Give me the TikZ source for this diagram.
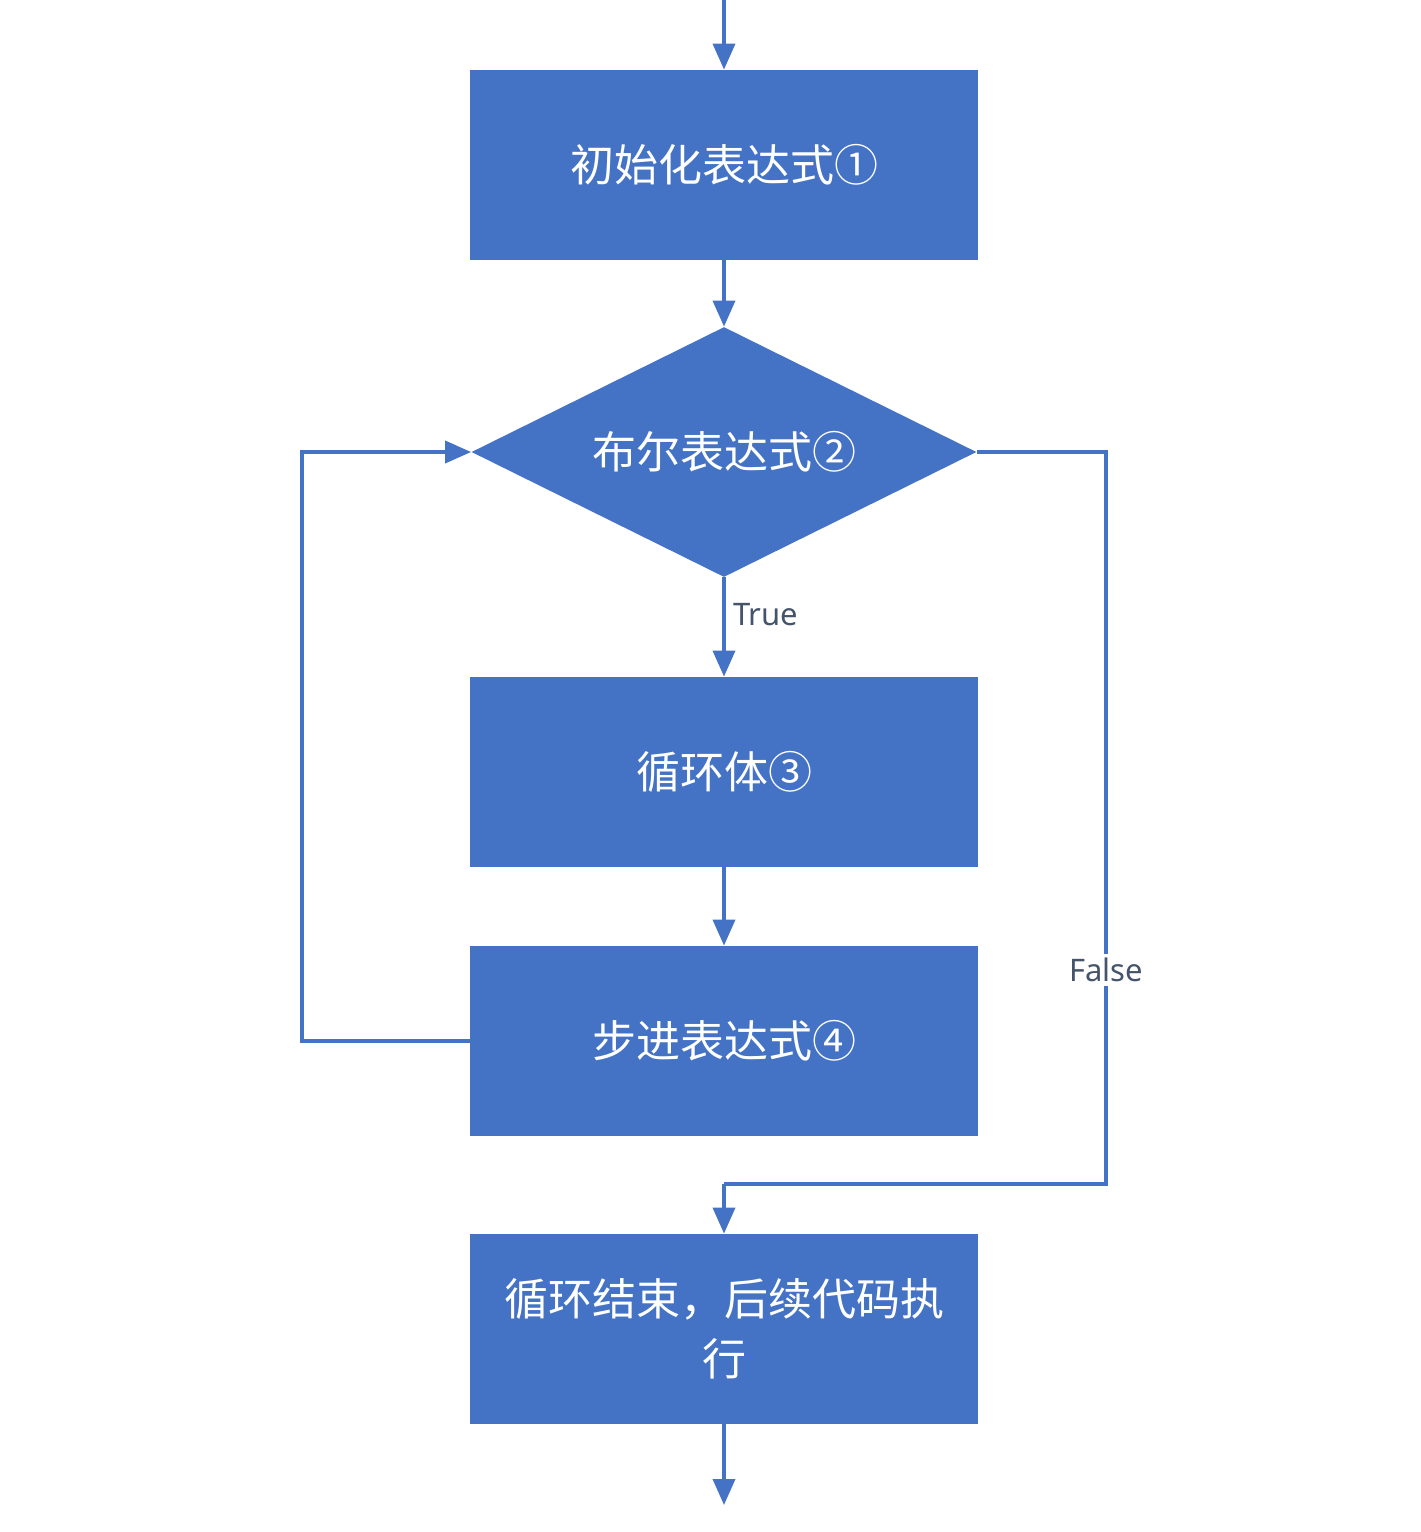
\documentclass[tikz,border=0pt]{standalone}
\usepackage{fontspec}
\newfontfamily\cjk{Noto Sans CJK SC}
\newfontfamily\lab{Noto Sans}
\usetikzlibrary{shapes.geometric,arrows.meta}
\definecolor{boxblue}{HTML}{4472C4}
\definecolor{labcol}{HTML}{44546A}
\begin{document}
\begin{tikzpicture}[x=0.5pt,y=-0.5pt,
  procbox/.style={rectangle,fill=boxblue,draw=none,minimum width=254pt,minimum height=95pt,inner sep=0pt,text=white,font=\cjk\fontsize{22pt}{30pt}\selectfont,align=center},
  decbox/.style={diamond,shape aspect=2.02,fill=boxblue,draw=none,minimum width=252.5pt,minimum height=125pt,inner sep=0pt,text=white,font=\cjk\fontsize{22pt}{30pt}\selectfont},
  conn/.style={draw=boxblue,line width=1.8pt,-{Triangle[width=11pt,length=13pt]}},
  plainconn/.style={draw=boxblue,line width=1.8pt},
  edgelab/.style={font=\lab\fontsize{15.5pt}{18pt}\selectfont,text=labcol}]
\useasboundingbox (0,0) rectangle (1420,1532);
\fill[white] (0,0) rectangle (1420,1532);
\node[procbox] (init) at (724,165) {初始化表达式①};
\node[decbox] (cond) at (724,452) {布尔表达式②};
\node[procbox] (body) at (724,772) {循环体③};
\node[procbox] (step4) at (724,1041) {步进表达式④};
\node[procbox] (done) at (724,1329) {循环结束，后续代码执\\行};
\coordinate (start) at (724,0);
\coordinate (fin) at (724,1505);
\coordinate (lt) at (302,1041);
\coordinate (lb) at (302,452);
\coordinate (rt) at (1106,452);
\coordinate (rb) at (1106,1184);
\coordinate (mb) at (724,1184);
\draw[conn] (start) -- (init.north);
\draw[conn] (init.south) -- (cond.north);
\draw[conn] (cond.south) -- (body.north);
\node[edgelab,anchor=west] (truelab) at (726,615) {True};
\draw[conn] (body.south) -- (step4.north);
\draw[conn] (step4.west) -- (lt) -- (lb) -- (cond.west);
\draw[plainconn] (cond.east) -- (rt) -- (rb) -- (mb);
\draw[conn] (mb) -- (done.north);
\node[edgelab,fill=white,inner sep=2pt] (falselab) at (1106,970) {False};
\draw[conn] (done.south) -- (fin);
\end{tikzpicture}
\end{document}
